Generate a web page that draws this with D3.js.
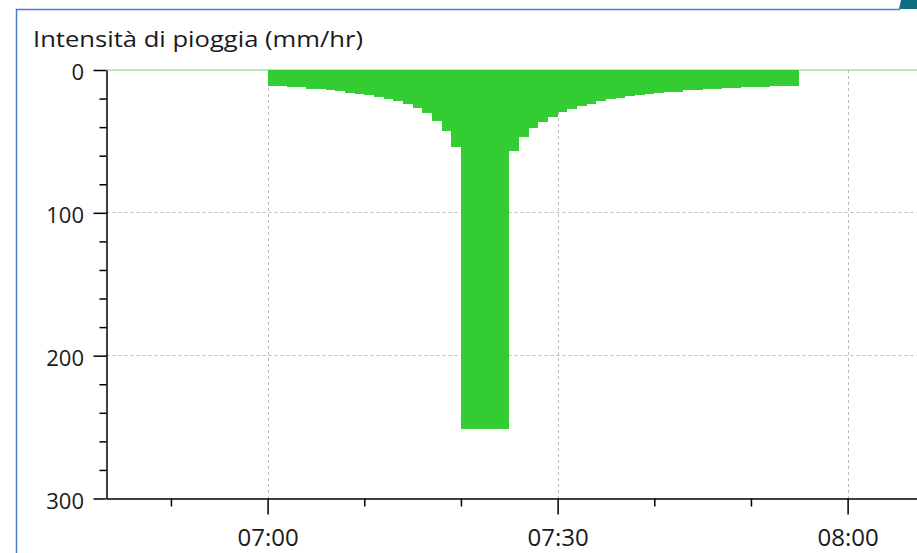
<!DOCTYPE html>
<html>
<head>
<meta charset="utf-8">
<script src="https://cdn.jsdelivr.net/npm/d3@7"></script>
<style>
  html, body { margin: 0; padding: 0; background: #fff; }
  svg { display: block; }
  text { font-family: "Open Sans", "Noto Sans", sans-serif; fill: #1a1a1a; }
</style>
</head>
<body>
<svg id="chart" width="917" height="553"></svg>
<script>
// ---- data ----
const title = "Intensità di pioggia (mm/hr)";
const seriesStart = "07:00";        // first step
const stepMinutes = 1;              // step length
// rainfall intensity (mm/hr), one value per minute from 07:00 to 07:55
const intensity = [
  11.0, 11.0, 11.7, 11.7, 13.1, 13.1, 14.0, 14.9, 15.8, 16.6,
  17.5, 18.7, 20.3, 21.7, 23.8, 26.4, 29.9, 35.5, 42.4, 54.1,
  251, 251, 251, 251, 251,
  56.6, 47.1, 40.8, 36.1, 32.6, 29.2, 27.1, 25.2, 23.6, 21.7,
  20.5, 19.4, 18.4, 17.5, 16.6, 15.9, 15.2, 15.2, 14.2, 14.2,
  13.5, 13.5, 12.6, 12.6, 11.9, 11.9, 11.9, 11.0, 11.0, 11.0
];
const xDomainLabels = ["06:43:20", "08:10:00"];
const xMajorTicks = ["07:00", "07:30", "08:00"];
const xMinorTicks = ["06:50", "07:10", "07:20", "07:40", "07:50", "08:10"];
const yDomain = [0, 300];
const yMajorTicks = [0, 100, 200, 300];
const yMinorTicks = [20, 40, 60, 80, 120, 140, 160, 180, 220, 240, 260, 280];

// ---- helpers ----
const parseT = s => {
  const p = s.split(":").map(Number);
  return new Date(2000, 0, 1, p[0], p[1], p[2] || 0);
};
const addMin = (d, m) => new Date(d.getTime() + m * 60000);

const svg = d3.select("#chart");

// frame
svg.append("path")
  .attr("d", "M16.5,553 L16.5,9.5 L900,9.5")
  .attr("fill", "none").attr("stroke", "#4a7bd0").attr("stroke-width", 1.5);
svg.append("path")
  .attr("d", "M901,0 L917,0 L917,9 L899,9 Z")
  .attr("fill", "#0f6f80");

// scales
const x = d3.scaleTime()
  .domain(xDomainLabels.map(parseT))
  .range([106.5, 106.5 + 86.6667 * 9.6667]);
const y = d3.scaleLinear().domain(yDomain).range([70, 498.5]);

const left = x.range()[0], right = x.range()[1];

// grid
const g = svg.append("g");
g.selectAll(".hg").data([100, 200]).join("line")
  .attr("x1", left).attr("x2", right)
  .attr("y1", d => Math.round(y(d)) - 0.5).attr("y2", d => Math.round(y(d)) - 0.5)
  .attr("stroke", "#bdbdbd").attr("stroke-dasharray", "3,3");
g.selectAll(".vg").data(xMajorTicks.map(parseT)).join("line")
  .attr("x1", d => Math.round(x(d)) + 0.5).attr("x2", d => Math.round(x(d)) + 0.5)
  .attr("y1", y(0)).attr("y2", y(300))
  .attr("stroke", "#bdbdbd").attr("stroke-dasharray", "3,3");

// series
const t0 = parseT(seriesStart);
const pts = [{t: x.domain()[0], v: 0}];
intensity.forEach((v, i) => pts.push({t: addMin(t0, i * stepMinutes), v}));
pts.push({t: addMin(t0, intensity.length * stepMinutes), v: 0});
pts.push({t: x.domain()[1], v: 0});

svg.append("path")
  .datum(pts)
  .attr("fill", "#33cc33")
  .attr("shape-rendering", "crispEdges")
  .attr("d", d3.area().curve(d3.curveStepAfter)
    .x(d => x(d.t)).y0(y(0)).y1(d => y(d.v)));
svg.append("line")
  .attr("x1", left).attr("x2", right).attr("y1", y(0)).attr("y2", y(0))
  .attr("stroke", "#33cc33").attr("stroke-width", 1).attr("opacity", 0.7);

// axes
function styleAxis(sel, size) {
  sel.select(".domain").attr("stroke", "#000").attr("stroke-width", 1.5);
  sel.selectAll(".tick line").attr("stroke", "#000").attr("stroke-width", 1.5);
  sel.selectAll("text").attr("fill", "#1a1a1a").attr("font-size", size)
    .attr("font-family", '"Open Sans", "Noto Sans", sans-serif');
}
const yAx = svg.append("g").attr("transform", `translate(${left},0)`)
  .call(d3.axisLeft(y).tickValues(yMajorTicks).tickSize(13).tickPadding(9.5).tickSizeOuter(0));
styleAxis(yAx, 22);
yAx.selectAll("text").attr("dy", "0.45em");
const yMin = svg.append("g").attr("transform", `translate(${left},0)`)
  .call(d3.axisLeft(y).tickValues(yMinorTicks).tickSize(7).tickFormat("").tickSizeOuter(0));
styleAxis(yMin, 22);
yMin.select(".domain").remove();

const xAx = svg.append("g").attr("transform", `translate(0,${y(300)})`)
  .call(d3.axisBottom(x).tickValues(xMajorTicks.map(parseT)).tickSize(16).tickPadding(14.5)
    .tickFormat(d3.timeFormat("%H:%M")).tickSizeOuter(0));
styleAxis(xAx, 24);
const xMin = svg.append("g").attr("transform", `translate(0,${y(300)})`)
  .call(d3.axisBottom(x).tickValues(xMinorTicks.map(parseT)).tickSize(8).tickFormat("").tickSizeOuter(0));
styleAxis(xMin, 24);
xMin.select(".domain").remove();

// title
svg.append("text").attr("x", 33).attr("y", 47)
  .attr("font-size", 22)
  .attr("textLength", 330).attr("lengthAdjust", "spacingAndGlyphs")
  .text(title);
</script>
</body>
</html>
